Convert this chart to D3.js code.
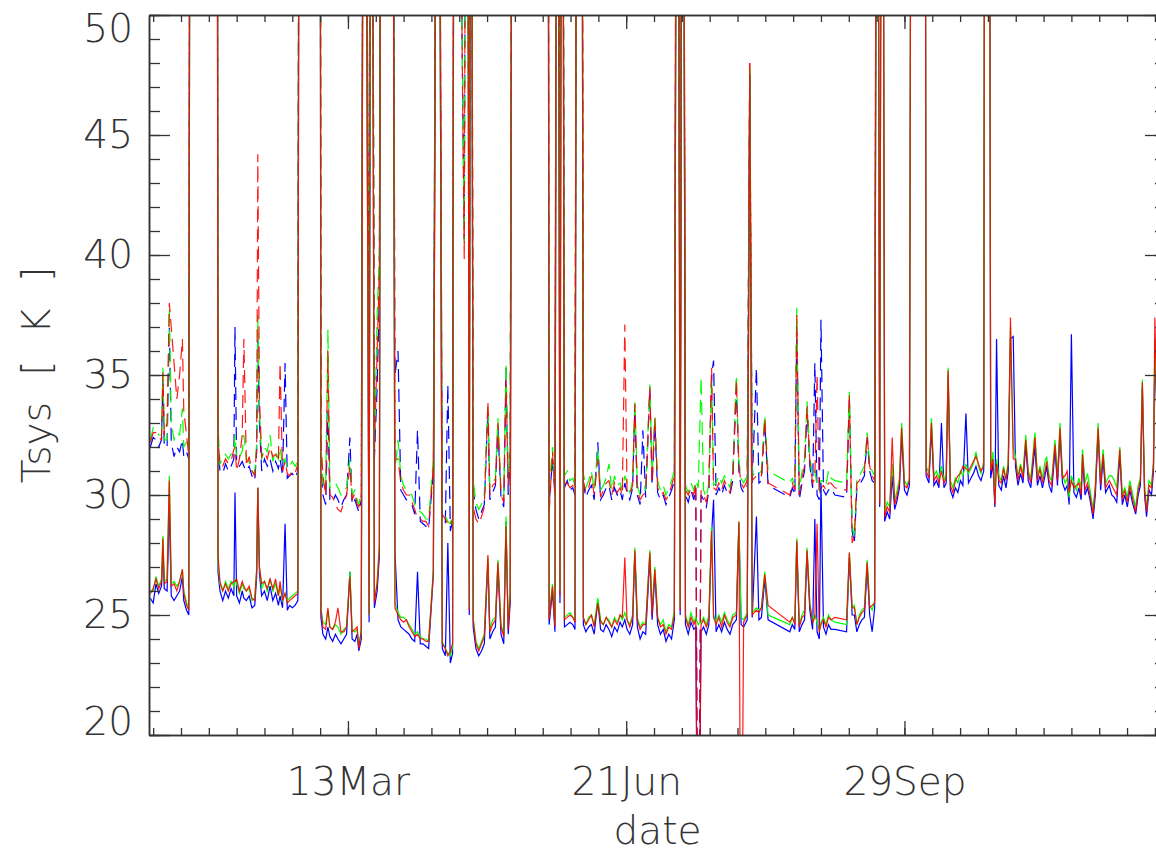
<!DOCTYPE html>
<html>
<head>
<meta charset="utf-8">
<title>Tsys</title>
<script src="https://d3js.org/d3.v7.min.js"></script>
<style>
body { margin: 0; background: #fff; }
svg text { font-family: "DejaVu Sans", sans-serif; font-weight: 200; fill: #333; }
</style>
</head>
<body>
<div id="chart"></div>
<script>

// values off the plotted range (drawn as clipped spikes)
var HI = 80, LO = 10;

// day of year of each sample
var days = [
  1, 2, 3, 4, 5, 5.5, 6, 7, 7.8, 8.5, 9.5, 10.5, 11.5, 12.5, 13, 14, 14.8, 15.4, 24.9,
  25.3, 26, 27, 28, 29, 30, 31, 31.4, 32, 33, 34, 34.6, 35.5, 36.5, 37.5, 38.5, 39.2, 39.6, 40.2, 41, 42, 43, 44, 45, 46, 47, 47.6, 48.5, 49.4, 50.2, 51, 52, 53, 54, 54.6, 61.9,
  62.3, 63, 64, 64.8, 65.5, 66.5, 67.5, 68.4, 69.5, 70.5, 71.5, 72.7, 73.5, 74.5, 75.3, 75.9, 76.8, 77.8, 79.6, 80.4, 81.5, 82.5, 83.3, 84.0, 87.8,
  88.9, 90, 91, 92, 93, 94, 95, 96, 97, 98, 99, 100, 101, 102.7, 104.3, 105.9, 107, 107.9, 108.8, 109.6, 110.3, 113.8, 114.8, 115.6, 116.2,
  117, 118, 119, 120, 121, 122.3, 123, 124, 125, 125.9, 127, 128, 128.8, 129.6, 130.3, 131.3, 143.8,
  144.3, 145.5, 146.4, 147.2, 148.2, 149.0, 149.8, 150.8, 151.8, 152.8, 153.6, 154.4, 155.9, 156.6, 157.5, 158.5, 159.5, 160.5, 161.8, 162.8, 163.8, 164.8, 165.8, 166.8, 167.8, 168.8, 169.8, 170.6, 171.5, 172.3, 173.3, 174.3, 175.1, 176, 177, 178, 179, 180.5, 181.3, 182.3, 183.3, 184.3, 185.3, 186.3, 187.3, 188.3, 189.3, 190.4, 191.4, 192.3,
  193.3, 194.3, 195.3, 196.3, 197.0, 197.9, 198.9, 199.8, 200.8, 201.7, 202.7, 203.4, 204.3, 205.3, 206.3, 207.3, 208.3, 209.3, 210.3, 211.6, 212.5, 213.3, 214.2, 215.5, 216.4, 217.3, 218.8, 219.7, 220.6, 221.8, 223.0, 230.8,
  231.7, 232.6, 233.3, 234.2, 235.2, 236.1, 237.0, 238.0, 239.0, 239.8, 240.6, 241.4, 242.0, 242.9, 243.8, 244.7, 245.6, 247.0, 251.2, 252.2, 253.2, 254.0, 254.9, 255.8, 256.7, 257.6, 258.6, 259.5, 260.4, 261.3, 262.2,
  263.1, 264.0, 264.9, 265.8, 266.7, 267.6, 268.5, 269.4, 270.2, 271.0,
  272.0, 272.9, 273.8, 274.7, 279.3, 279.8, 280.8, 281.7, 282.6, 283.5,
  284.4, 285.3, 286.2, 287.0, 287.7, 288.5, 289.4, 290.3, 291.2, 292.1,
  293.0, 294.1, 295.0, 295.9, 296.8, 297.7, 298.6, 299.5, 300.5, 301.0,
  302.3, 303.0, 303.8, 304.5, 305.1, 305.9, 306.8, 307.6, 308.5, 309.3,
  310.1, 311.1, 311.9, 312.8, 313.7, 314.6, 315.6, 316.5, 317.4, 318.9,
  319.8, 320.7, 321.6, 322.5, 323.1, 324.0, 324.9, 326.1, 327.0, 327.9,
  328.8, 329.7, 330.5, 331.2, 332.0, 332.9, 333.8, 334.7, 335.5, 336.0,
  336.9, 337.8, 338.7, 339.8, 340.6, 341.6, 342.5, 343.4, 344.3, 345.6,
  346.5, 347.4, 348.3, 349.4, 350.3, 351.2, 352.1, 353.0, 353.9, 355.1,
  356.0, 356.8, 357.5, 358.3, 359.0, 359.9, 360.8, 361.5, 362.0, 362.8
];

// solid lines
var tsysBlue = [
  25.7, 25.5, 26.3, 25.9, 26.2, 27.6, 26.1, 26.0, 29.5, 25.8, 25.6, 25.8, 26.0, 26.6, 25.6, 25.2, 25.0, HI, HI,
  26.8, 26.0, 25.6, 26.0, 25.7, 26.1, 25.8, 30.1, 25.8, 25.5, 26.0, 25.7, 25.6, 25.8, 25.3, 25.4, 26.6, 30.3, 26.7, 25.8, 26.0, 25.6, 26.2, 25.6, 25.9, 25.4, 25.8, 25.3, 28.8, 25.2, 25.4, 25.3, 25.4, 25.6, HI, HI,
  24.9, 24.2, 24.0, 24.5, 24.1, 23.9, 24.2, 24.0, 23.8, 24.0, 24.2, 26.8, 24.0, 23.9, 24.2, 23.5, 24.0, HI, 24.7, HI, 25.3, 26.0, 27.5, HI, HI,
  27.6, 24.8, 24.5, 24.4, 24.3, 24.2, 24.0, 23.9, 26.8, 23.8, 23.8, 23.7, 23.6, 26.7, HI, 23.6, 23.3, 28.0, 23.0, 23.4, HI, HI, HI, 25.0, HI,
  24.5, 23.6, 23.3, 23.5, 23.8, 27.2, 24.0, 24.3, 24.5, 27.0, 24.2, 23.8, 28.9, 24.2, 25.5, HI, HI,
  24.6, 26.0, 24.3, HI, 25.5, HI, 24.5, 24.6, 24.7, 24.6, 24.4, HI, HI, 24.6, 24.3, 24.5, 24.6, 24.2, 25.6, 24.4, 24.3, 24.6, 24.4, 24.1, 24.5, 24.3, 24.7, 24.5, 24.8, 24.4, 24.2, 24.6, 27.6, 24.5, 24.0, 24.3, 24.2, 27.4, 24.8, 26.7, 24.6, 24.2, 24.4, 23.9, 24.2, 24.0, 24.8, HI, 25.0, HI,
  24.6, 24.2, 24.7, 24.4, 24.5, LO, 24.3, 24.5, 24.2, 24.6, 28.4, 29.8, 24.3, 24.6, 24.3, 24.7, 24.4, 24.2, 24.6, 24.8, 28.8, 24.6, 24.5, 24.8, 47.5, 24.9, 29.1, 24.8, 24.9, 26.5, 24.8, 24.3,
  24.6, 24.4, 28.0, 24.3, 24.6, 24.8, 27.6, 25.2, 24.4, 29.0, 24.3, 24.0, 30.5, 24.5, 24.2, 24.6, 24.4, 24.4, 24.3, 27.4, 25.0, 25.0, 24.3, 24.6, 24.8, 24.9, 27.0, 25.0, 24.3, 25.3, HI,
  29.5, HI, 28.9, 29.3, 29.0, 30.8, 29.4, 29.8, 30.3, 32.5,
  30.2, 30.0, 30.4, HI, HI, 30.8, 30.5, 32.8, 30.4, 30.6,
  30.3, 33.0, 30.3, 30.5, 35.0, 30.2, 29.9, 30.3, 30.1, 30.6,
  30.4, 33.4, 30.5, 30.7, 30.9, 31.2, 30.8, 30.6, 31.0, HI,
  HI, 30.7, 31.3, 29.5, 36.5, 30.4, 30.2, 30.8, 30.3, 31.0,
  36.5, 36.6, 31.2, 30.4, 30.9, 30.5, 32.1, 30.6, 30.3, 32.0,
  30.4, 30.8, 30.3, 30.8, 31.2, 30.4, 30.1, 31.9, 30.4, 32.6,
  30.5, 30.2, 30.4, 29.6, 36.7, 30.1, 29.9, 30.3, 29.8, 31.5,
  30.0, 30.3, 29.8, 29.0, 30.0, 32.6, 30.2, 31.5, 30.1, 30.4,
  30.0, 29.9, 29.7, 31.7, 29.6, 30.0, 29.5, 30.2, 29.7, 29.2,
  30.0, 30.4, 34.5, 30.0, 29.1, 30.2, 30.0, 31.0, 36.0, 33.0
];
var tsysGreen = [
  26.0, 26.0, 26.6, 26.2, 26.5, 28.3, 26.4, 26.5, 30.8, 26.3, 26.4, 26.2, 26.4, 26.9, 26.0, 25.5, 25.3, HI, HI,
  27.2, 26.3, 26.0, 26.4, 26.1, 26.4, 26.2, 26.5, 26.3, 25.9, 26.3, 26.1, 26.0, 26.1, 25.6, 25.7, 26.9, 30.3, 27.0, 26.1, 26.4, 26.0, 26.5, 26.0, 26.3, 25.8, 26.2, 25.6, 25.9, 25.6, 25.7, 25.8, 25.9, 26.0, HI, HI,
  25.3, 24.7, 24.6, 25.2, 24.5, 24.4, 24.6, 24.5, 24.2, 24.4, 24.5, 26.8, 24.4, 24.3, 24.4, 23.7, 24.3, HI, 25.0, HI, 25.6, 26.4, 28.0, HI, HI,
  25.5, 25.1, 24.9, 24.9, 24.8, 24.6, 24.4, 24.2, 24.3, 24.1, 24.0, 24.0, 23.9, 26.9, HI, 23.9, 23.6, 23.4, 23.3, 23.7, HI, HI, HI, 25.3, HI,
  24.9, 23.9, 23.6, 23.9, 24.2, 27.4, 24.4, 24.8, 24.9, 27.3, 24.6, 24.2, 29.1, 24.6, 26.0, HI, HI,
  24.9, 26.3, 24.6, HI, 26.0, HI, 24.9, 25.0, 25.1, 24.9, 24.8, HI, HI, 24.9, 24.6, 24.9, 25.0, 24.6, 25.7, 24.8, 24.6, 24.9, 24.8, 24.5, 24.9, 24.7, 25.0, 24.8, 25.1, 24.8, 24.6, 25.0, 27.8, 24.9, 24.5, 24.7, 24.6, 27.7, 25.2, 27.0, 24.9, 24.6, 24.8, 24.3, 24.6, 24.5, 25.2, HI, 25.3, HI,
  25.0, 24.6, 25.1, 24.7, 24.9, 24.6, 24.7, 24.9, 24.6, 25.0, 28.7, 25.0, 24.7, 25.0, 24.7, 25.1, 24.8, 24.6, 25.0, 25.1, 28.9, 24.9, 24.8, 25.1, 47.8, 25.1, 25.3, 25.2, 25.3, 26.8, 25.0, 24.6,
  24.9, 24.7, 28.2, 24.6, 25.0, 25.2, 27.8, 25.5, 24.8, 25.0, 24.7, 24.4, 24.7, 24.9, 24.6, 25.0, 24.8, 24.7, 24.6, 27.6, 25.3, 25.4, 24.6, 25.0, 25.2, 25.3, 27.3, 25.4, 25.2, 25.6, HI,
  29.8, HI, 29.3, 29.7, 29.5, 31.3, 29.8, 30.2, 30.7, 33.0,
  30.6, 30.4, 30.7, HI, HI, 31.2, 30.9, 33.2, 30.8, 31.0,
  30.7, 31.2, 30.6, 30.9, 35.3, 30.6, 30.3, 30.7, 30.5, 31.0,
  30.8, 31.3, 30.9, 31.1, 31.3, 31.8, 31.2, 30.9, 31.4, HI,
  HI, 31.1, 31.8, 29.8, 31.5, 30.8, 30.6, 31.2, 30.7, 31.4,
  37.0, 32.0, 31.6, 30.8, 31.3, 30.9, 32.5, 31.0, 30.7, 32.6,
  30.8, 31.2, 30.7, 31.4, 31.6, 30.8, 30.6, 32.3, 30.8, 33.0,
  30.9, 30.5, 30.7, 29.9, 30.8, 30.5, 30.2, 30.7, 30.3, 31.9,
  30.5, 30.9, 30.2, 29.4, 30.4, 33.0, 30.6, 31.9, 30.5, 30.8,
  30.8, 30.6, 30.3, 32.0, 30.0, 30.3, 29.9, 30.6, 30.1, 29.5,
  30.4, 30.7, 34.8, 30.4, 29.4, 30.6, 30.4, 31.4, 36.5, 33.5
];
var tsysRed = [
  25.9, 26.1, 26.5, 26.1, 26.4, 28.2, 26.3, 26.4, 30.6, 26.2, 26.3, 26.0, 26.4, 26.9, 25.9, 25.4, 25.2, HI, HI,
  27.5, 26.4, 26.0, 26.3, 26.0, 26.3, 26.4, 26.4, 26.5, 26.0, 26.4, 26.2, 26.0, 26.2, 25.7, 25.6, 26.9, 30.3, 27.0, 26.3, 26.4, 26.1, 26.5, 26.1, 26.5, 25.8, 26.4, 25.6, 25.9, 25.5, 25.6, 25.7, 25.8, 25.9, HI, HI,
  25.2, 24.5, 24.4, 25.3, 24.5, 24.4, 24.7, 25.3, 24.3, 24.3, 24.5, 26.6, 24.3, 24.4, 24.5, 23.6, 24.4, HI, 25.0, HI, 25.5, 26.3, 27.8, HI, HI,
  25.3, 25.0, 24.8, 24.7, 24.8, 24.5, 24.3, 24.1, 24.2, 24.0, 24.0, 23.9, 23.9, 26.8, HI, 23.8, 23.6, 23.3, 23.5, 23.8, HI, HI, HI, 25.2, HI,
  24.8, 23.8, 23.5, 23.8, 24.1, 27.5, 24.3, 24.6, 24.8, 27.2, 24.5, 24.1, 28.7, 24.4, 25.8, HI, HI,
  24.8, 26.2, 24.5, HI, 25.8, HI, 24.8, 24.9, 25.0, 24.9, 24.7, HI, HI, 24.9, 24.6, 24.8, 25.0, 24.5, 25.5, 24.7, 24.6, 24.9, 24.7, 24.5, 24.8, 24.6, 25.0, 24.9, 27.4, 24.8, 24.5, 24.9, 27.7, 24.8, 24.4, 24.6, 24.6, 27.6, 25.0, 26.9, 24.9, 24.5, 24.6, 24.2, 24.5, 24.4, 25.0, HI, 25.2, HI,
  24.9, 24.5, 24.9, 24.6, 24.8, LO, 24.6, 24.8, 24.5, 24.8, 28.5, 24.9, 24.6, 24.9, 24.5, 25.0, 24.7, 24.5, 24.9, 25.0, 28.9, LO, 24.7, 25.0, 48.0, 25.0, 25.2, 25.1, 25.3, 26.7, 25.4, 24.7,
  24.9, 24.6, 28.1, 24.5, 24.9, 25.0, 27.7, 25.4, 24.7, 24.9, 28.8, 24.3, 24.6, 24.8, 24.5, 24.9, 24.8, 24.9, 24.8, 27.6, 25.3, 25.3, 24.6, 24.9, 25.1, 25.2, 27.2, 25.3, 25.4, 25.5, HI,
  29.6, HI, 29.1, 29.5, 29.3, 32.4, 29.6, 30.0, 30.5, 32.8,
  30.4, 30.3, 30.6, HI, HI, 31.0, 30.7, 33.0, 30.6, 30.8,
  30.5, 31.0, 30.5, 30.7, 35.2, 30.4, 30.1, 30.6, 30.8, 30.9,
  31.2, 31.1, 31.0, 31.2, 31.4, 31.6, 31.3, 31.0, 31.2, HI,
  HI, 31.0, 31.5, 29.6, 31.3, 30.6, 30.5, 31.1, 30.6, 31.3,
  37.4, 31.5, 31.5, 30.6, 31.2, 30.7, 32.3, 30.9, 30.5, 32.4,
  30.6, 31.1, 30.5, 31.0, 31.4, 30.6, 30.4, 32.1, 30.6, 32.8,
  30.7, 30.8, 31.0, 30.1, 30.6, 30.3, 30.4, 30.5, 30.0, 31.7,
  30.2, 30.5, 30.0, 29.2, 30.3, 32.8, 30.4, 31.7, 30.3, 30.6,
  30.4, 30.2, 30.0, 31.9, 29.8, 30.2, 29.7, 30.4, 29.9, 29.3,
  30.2, 30.6, 34.7, 30.2, 29.3, 30.4, 30.3, 31.3, 37.4, 33.3
];

// dashed lines (same days, they stop in late September)
var tsysBlueHi = [
  32.0, 32.4, 32.3, 32.0, 32.3, 34.8, 32.0, 32.0, 37.0, 32.2, 31.6, 32.0, 31.8, 32.3, 31.6, 31.8, 31.5, HI, HI,
  32.0, 31.0, 30.9, 31.3, 31.0, 31.2, 31.5, 37.0, 31.3, 31.2, 31.4, 31.2, 31.0, 31.2, 30.8, 30.6, 31.8, 36.5, 33.0, 31.0, 31.5, 31.2, 31.5, 31.0, 31.4, 31.1, 31.5, 30.8, 35.5, 30.7, 30.8, 30.9, 30.7, 31.0, HI, HI,
  31.2, 30.0, 29.6, 33.5, 29.8, 29.7, 30.0, 29.8, 29.5, 29.8, 30.0, 32.4, 29.6, 29.8, 29.5, 29.3, 29.8, HI, 34.0, HI, 31.5, 34.5, 38.5, HI, HI,
  35.0, 36.0, 30.2, 30.0, 29.8, 29.7, 29.6, 29.2, 32.7, 28.9, 28.8, 28.7, 28.6, 31.0, HI, 29.0, 28.8, 34.6, 28.5, 28.9, HI, 40.6, HI, 30.5, HI,
  30.2, 29.4, 29.0, 29.3, 29.6, 33.5, 29.8, 30.1, 30.4, 32.8, 29.9, 29.5, 35.3, 30.0, 31.5, HI, HI,
  29.6, 31.5, 30.0, HI, 38.5, HI, 30.3, 30.6, 30.2, 30.3, 30.0, HI, HI, 30.5, 29.9, 30.2, 30.4, 29.8, 32.2, 29.8, 30.0, 30.3, 30.4, 29.8, 30.3, 30.0, 30.2, 29.8, 30.5, 30.1, 29.8, 30.3, 33.6, 30.0, 29.6, 32.7, 29.9, 34.4, 30.4, 33.0, 30.1, 29.8, 30.0, 29.6, 29.9, 30.2, 30.6, HI, 30.5, HI,
  30.0, 29.7, 30.2, 29.8, 30.3, LO, 30.0, 29.8, 29.5, 30.2, 35.0, 35.6, 30.0, 30.3, 30.0, 30.4, 30.1, 30.0, 30.6, 34.5, 31.0, 30.3, 30.1, 30.4, 47.5, 30.5, 35.3, 30.5, 30.6, 33.0, 30.4, 29.9,
  30.3, 30.0, 37.0, 29.8, 30.5, 31.0, 33.6, 31.2, 30.3, 35.5, 30.0, 29.8, 37.3, 30.2, 30.0, 30.2, 30.3, 30.0, 29.9, 34.0, 28.5, 28.0, 30.3, 30.4, 30.6, 30.8, 32.4, 31.0, 30.6, 30.5, HI
];
var tsysGreenHi = [
  32.3, 32.8, 32.7, 32.5, 32.5, 35.3, 32.3, 32.3, 37.8, 33.0, 32.3, 32.6, 32.5, 33.6, 32.0, 32.2, 31.9, HI, HI,
  32.9, 31.3, 31.5, 31.7, 31.5, 31.7, 31.8, 32.5, 31.5, 31.6, 31.8, 32.5, 31.5, 31.4, 31.0, 30.9, 32.2, 37.5, 33.5, 31.5, 32.0, 31.8, 32.5, 31.4, 31.8, 31.5, 32.0, 31.2, 31.5, 31.1, 31.2, 31.4, 31.2, 31.4, HI, HI,
  32.0, 30.5, 30.3, 36.9, 30.3, 30.4, 30.5, 30.3, 30.0, 30.2, 30.3, 31.5, 30.0, 30.2, 29.8, 29.6, 30.2, HI, 34.5, HI, 32.0, 37.5, 40.2, HI, HI,
  31.0, 32.3, 30.8, 30.4, 30.2, 30.1, 30.0, 29.6, 29.4, 29.3, 29.2, 29.0, 29.0, 31.5, HI, 29.3, 29.1, 28.9, 28.8, 29.2, HI, 40.5, HI, 30.9, HI,
  30.6, 29.7, 29.4, 29.6, 30.0, 33.7, 30.3, 30.5, 30.7, 33.2, 30.2, 29.9, 35.5, 30.8, 32.0, HI, HI,
  30.2, 32.0, 30.5, HI, 41.3, HI, 30.8, 31.0, 30.6, 30.7, 30.4, HI, HI, 30.9, 30.3, 30.6, 31.0, 30.2, 31.9, 30.2, 30.4, 30.7, 31.3, 30.2, 30.8, 30.4, 30.5, 30.2, 30.8, 30.5, 30.1, 30.6, 34.0, 30.4, 30.0, 30.2, 30.2, 34.6, 30.8, 33.3, 30.6, 30.2, 30.4, 30.0, 30.3, 30.6, 31.0, HI, 30.8, HI,
  30.4, 30.1, 30.5, 30.2, 30.6, 30.3, 34.9, 30.2, 29.9, 30.5, 34.9, 30.4, 30.5, 30.8, 30.5, 30.8, 30.6, 30.3, 31.0, 35.0, 31.4, 30.7, 30.5, 30.8, 47.8, 30.8, 31.0, 30.9, 31.0, 33.3, 31.0, 30.5,
  30.7, 30.4, 37.8, 30.2, 31.0, 31.5, 33.9, 31.6, 30.8, 31.0, 30.4, 30.2, 30.6, 30.6, 30.4, 31.0, 30.7, 30.6, 30.5, 34.3, 28.8, 28.2, 30.7, 30.8, 31.0, 31.2, 32.6, 31.3, 31.0, 30.8, HI
];
var tsysRedHi = [
  32.2, 32.6, 32.6, 32.4, 32.3, 35.1, 32.5, 33.0, 38.0, 37.0, 35.5, 34.0, 35.0, 36.5, 33.5, 32.5, 31.6, HI, HI,
  32.5, 31.2, 31.2, 31.5, 31.3, 31.4, 31.9, 32.0, 31.0, 31.5, 32.5, 36.5, 31.2, 31.6, 31.0, 30.8, 32.0, 44.2, 34.0, 31.6, 31.8, 31.5, 32.0, 31.6, 31.7, 31.4, 35.5, 31.0, 31.4, 30.9, 30.8, 31.0, 30.9, 31.3, HI, HI,
  32.2, 30.8, 30.0, 36.0, 30.0, 29.9, 29.6, 29.4, 29.3, 29.7, 30.0, 31.2, 29.8, 30.1, 29.6, 29.5, 30.0, HI, 34.2, HI, 31.8, 36.0, 39.5, HI, HI,
  31.5, 31.5, 30.5, 30.2, 30.0, 30.0, 29.7, 29.4, 29.0, 29.0, 28.9, 28.9, 28.7, 31.2, HI, 29.2, 29.0, 28.8, 28.7, 29.0, HI, 39.8, HI, 30.7, HI,
  29.5, 29.0, 28.8, 29.1, 29.5, 33.9, 30.0, 30.4, 30.5, 33.0, 30.0, 29.7, 34.8, 30.4, 31.8, HI, HI,
  29.2, 31.8, 30.0, HI, 39.0, HI, 30.5, 30.5, 30.3, 30.4, 30.2, HI, HI, 30.6, 30.1, 30.3, 30.8, 30.0, 31.5, 29.9, 30.2, 30.5, 30.6, 30.0, 30.5, 30.1, 30.3, 30.0, 37.1, 30.2, 30.0, 30.4, 33.8, 30.2, 29.8, 30.0, 30.1, 34.5, 30.5, 33.2, 30.3, 30.0, 30.1, 29.8, 30.0, 30.4, 30.8, HI, 30.6, HI,
  30.2, 30.0, 30.3, 30.0, 30.5, LO, 30.2, 30.0, 29.7, 30.3, 35.3, 30.3, 30.2, 30.5, 30.2, 30.6, 30.3, 30.1, 30.8, 34.8, 31.2, 30.5, 30.3, 30.6, 48.0, 30.6, 30.8, 30.7, 30.8, 33.2, 30.5, 30.0,
  30.5, 30.2, 37.5, 30.0, 30.7, 31.2, 33.7, 31.4, 30.5, 30.7, 35.0, 30.0, 30.3, 30.4, 30.2, 30.5, 30.5, 30.3, 30.2, 34.2, 28.0, 28.3, 30.5, 30.6, 30.8, 31.0, 32.5, 31.2, 30.8, 30.6, HI
];

var xTickDays = [72, 172, 272];
var xTickLabels = ["13Mar", "21Jun", "29Sep"];
var yTicks = [20, 25, 30, 35, 40, 45, 50];

var width = 1156;
var height = 854;
var plotLeft = 149, plotRight = 1166, plotTop = 15, plotBottom = 735;

var svg = d3.select("#chart")
	.append("svg")
		.attr("width", width)
		.attr("height", height);

var x = d3.scaleLinear()
	.domain([0.5, 366])
	.range([plotLeft, plotRight]);

var y = d3.scaleLinear()
	.domain([20, 50])
	.range([plotBottom, plotTop]);

svg.append("clipPath")
	.attr("id", "plotclip")
	.append("rect")
		.attr("x", plotLeft)
		.attr("y", plotTop)
		.attr("width", plotRight - plotLeft)
		.attr("height", plotBottom - plotTop);

var line = d3.line()
	.x(function(d, i) { return x(days[i]); })
	.y(function(d) { return y(d); });

var plot = svg.append("g").attr("clip-path", "url(#plotclip)");

var series = [
	{values: tsysBlueHi,  color: "#0000ff", dash: "13,7", opacity: 1},
	{values: tsysGreenHi, color: "#00ff00", dash: "13,7", opacity: 1},
	{values: tsysRedHi,   color: "#ff0000", dash: "13,7", opacity: 0.9},
	{values: tsysBlue,    color: "#0000ff", dash: null,   opacity: 1},
	{values: tsysGreen,   color: "#00ff00", dash: null,   opacity: 1},
	{values: tsysRed,     color: "#ff0000", dash: null,   opacity: 0.9}
];

series.forEach(function(s) {
	plot.append("path")
		.datum(s.values)
		.attr("d", line)
		.attr("fill", "none")
		.attr("stroke", s.color)
		.attr("stroke-width", 1.2)
		.attr("stroke-opacity", s.opacity)
		.attr("stroke-dasharray", s.dash);
});

// axes, ticks pointing into the plot like IDL
var xMinor = d3.range(2, 366, 10);
var yMinor = d3.range(20, 51, 1);

function styleAxis(g) {
	g.select(".domain").attr("stroke", "#333").attr("stroke-width", 1.5);
	g.selectAll(".tick line").attr("stroke", "#333").attr("stroke-width", 1.3);
	g.selectAll("text").attr("font-size", 39).attr("font-family", null).attr("fill", "#333");
}

svg.append("g")
	.attr("transform", "translate(0," + plotBottom + ")")
	.call(d3.axisBottom(x).tickValues(xMinor).tickSize(-7).tickSizeOuter(0).tickFormat(""))
	.call(styleAxis);

svg.append("g")
	.attr("transform", "translate(0," + plotBottom + ")")
	.call(d3.axisBottom(x).tickValues(xTickDays).tickSize(-14).tickSizeOuter(0).tickPadding(32)
		.tickFormat(function(d, i) { return xTickLabels[i]; }))
	.call(styleAxis);

svg.append("g")
	.attr("transform", "translate(0," + plotTop + ")")
	.call(d3.axisTop(x).tickValues(xMinor).tickSize(-7).tickSizeOuter(0).tickFormat(""))
	.call(styleAxis);

svg.append("g")
	.attr("transform", "translate(0," + plotTop + ")")
	.call(d3.axisTop(x).tickValues(xTickDays).tickSize(-14).tickSizeOuter(0).tickFormat(""))
	.call(styleAxis);

svg.append("g")
	.attr("transform", "translate(" + plotLeft + ",0)")
	.call(d3.axisLeft(y).tickValues(yMinor).tickSize(-11).tickSizeOuter(0).tickFormat(""))
	.call(styleAxis);

var yAxis = svg.append("g")
	.attr("transform", "translate(" + plotLeft + ",0)")
	.call(d3.axisLeft(y).tickValues(yTicks).tickSize(-21).tickSizeOuter(0).tickPadding(16))
	.call(styleAxis);

// end labels sit inside the frame
yAxis.selectAll(".tick text")
	.attr("y", function(d) { return d === 50 ? 14 : (d === 20 ? -13 : 0); });

svg.append("g")
	.attr("transform", "translate(" + plotRight + ",0)")
	.call(d3.axisRight(y).tickValues(yMinor).tickSize(-11).tickSizeOuter(0).tickFormat(""))
	.call(styleAxis);

svg.append("g")
	.attr("transform", "translate(" + plotRight + ",0)")
	.call(d3.axisRight(y).tickValues(yTicks).tickSize(-21).tickSizeOuter(0).tickFormat(""))
	.call(styleAxis);

// axis titles
svg.append("text")
	.text("date")
	.attr("x", (plotLeft + plotRight) / 2)
	.attr("y", 844)
	.style("text-anchor", "middle")
	.style("font-size", "39px");

svg.append("text")
	.text("Tsys [ K ]")
	.attr("transform", "translate(50," + (plotTop + plotBottom) / 2 + ") rotate(-90)")
	.style("text-anchor", "middle")
	.style("word-spacing", "14px")
	.style("font-size", "39px");

</script>
</body>
</html>
